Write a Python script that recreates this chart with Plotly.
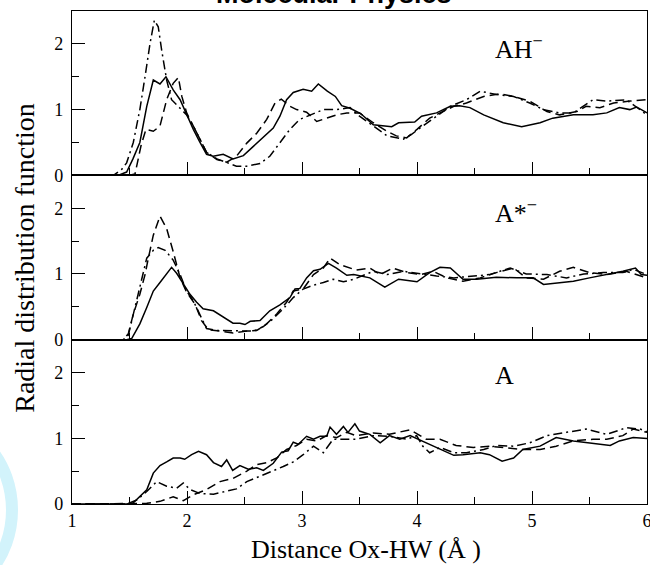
import plotly.graph_objects as go
from plotly.subplots import make_subplots

# ---------------- data ----------------
panel_labels = ["AH<sup>\u2212</sup>", "A*<sup>\u2212</sup>", "A"]
series_names = ["solid", "dashed", "dash-dot"]

# Panel 1: AH-
ah_solid_x = [1.0, 1.40, 1.475, 1.53, 1.59, 1.65, 1.707, 1.765, 1.817, 1.88, 1.94, 2.0, 2.055, 2.113, 2.17, 2.228, 2.315, 2.40, 2.49, 2.577, 2.664, 2.75, 2.808, 2.866, 2.924, 3.01, 3.084, 3.142, 3.22, 3.29, 3.345, 3.418, 3.51, 3.62, 3.78, 3.84, 3.98, 4.04, 4.17, 4.29, 4.37, 4.46, 4.58, 4.75, 4.91, 5.07, 5.18, 5.36, 5.53, 5.65, 5.76, 5.85, 5.91, 6.0]
ah_solid_y = [0, 0, 0.05, 0.25, 0.5, 1.05, 1.45, 1.39, 1.5, 1.3, 1.15, 0.9, 0.7, 0.5, 0.32, 0.29, 0.32, 0.25, 0.30, 0.44, 0.58, 0.72, 0.9, 1.15, 1.26, 1.31, 1.28, 1.39, 1.28, 1.2, 1.06, 1.02, 0.94, 0.77, 0.74, 0.80, 0.81, 0.90, 0.95, 1.05, 1.06, 1.03, 0.92, 0.80, 0.74, 0.80, 0.87, 0.92, 0.92, 0.95, 1.03, 1.0, 1.04, 0.95]

ah_dash_x = [1.0, 1.50, 1.548, 1.60, 1.643, 1.707, 1.765, 1.823, 1.88, 1.925, 1.955, 1.997, 2.055, 2.113, 2.17, 2.26, 2.345, 2.43, 2.52, 2.606, 2.693, 2.765, 2.82, 2.895, 2.953, 3.04, 3.128, 3.215, 3.30, 3.39, 3.50, 3.62, 3.74, 3.82, 3.91, 4.0, 4.11, 4.2, 4.32, 4.43, 4.58, 4.72, 4.84, 4.98, 5.13, 5.24, 5.39, 5.47, 5.59, 5.71, 5.85, 6.0]
ah_dash_y = [0, 0, 0.02, 0.45, 0.70, 0.67, 0.75, 1.15, 1.40, 1.49, 1.2, 0.95, 0.75, 0.55, 0.35, 0.24, 0.2, 0.29, 0.49, 0.64, 0.85, 1.10, 1.16, 1.05, 1.0, 0.96, 0.82, 0.87, 0.92, 0.95, 0.95, 0.80, 0.67, 0.60, 0.57, 0.70, 0.87, 0.95, 1.05, 1.1, 1.2, 1.24, 1.2, 1.13, 0.97, 0.92, 0.97, 1.05, 1.03, 1.1, 1.13, 1.15]

ah_dot_x = [1.0, 1.36, 1.432, 1.475, 1.533, 1.59, 1.635, 1.678, 1.716, 1.75, 1.78, 1.823, 1.866, 1.925, 1.997, 2.055, 2.113, 2.17, 2.26, 2.345, 2.43, 2.52, 2.635, 2.72, 2.808, 2.895, 2.98, 3.07, 3.186, 3.30, 3.418, 3.50, 3.62, 3.74, 3.88, 3.95, 4.05, 4.17, 4.29, 4.43, 4.55, 4.69, 4.84, 4.98, 5.10, 5.24, 5.36, 5.53, 5.65, 5.82, 6.0]
ah_dot_y = [0, 0, 0.09, 0.19, 0.5, 1.0, 1.5, 2.0, 2.36, 2.26, 1.9, 1.45, 1.15, 1.05, 0.92, 0.75, 0.55, 0.35, 0.25, 0.19, 0.14, 0.14, 0.18, 0.29, 0.49, 0.70, 0.85, 0.92, 1.0, 1.0, 1.03, 0.90, 0.75, 0.60, 0.55, 0.62, 0.75, 0.90, 1.05, 1.15, 1.28, 1.23, 1.2, 1.1, 1.0, 0.95, 0.95, 1.15, 1.13, 1.15, 0.92]

# Panel 2: A*-
as_solid_x = [1.0, 1.475, 1.52, 1.59, 1.65, 1.707, 1.765, 1.823, 1.866, 1.91, 1.968, 2.026, 2.084, 2.14, 2.23, 2.315, 2.40, 2.46, 2.504, 2.55, 2.635, 2.72, 2.808, 2.895, 2.939, 2.982, 3.04, 3.10, 3.157, 3.23, 3.30, 3.39, 3.45, 3.59, 3.72, 3.84, 4.0, 4.11, 4.2, 4.29, 4.40, 4.52, 4.69, 4.87, 5.01, 5.10, 5.24, 5.36, 5.50, 5.65, 5.79, 5.90, 5.95, 6.0]
as_solid_y = [0, 0, 0.02, 0.24, 0.49, 0.74, 0.87, 1.0, 1.1, 1.01, 0.84, 0.69, 0.57, 0.47, 0.44, 0.34, 0.25, 0.25, 0.23, 0.28, 0.29, 0.44, 0.53, 0.64, 0.77, 0.78, 0.94, 1.05, 1.07, 1.16, 1.09, 0.98, 0.99, 0.94, 0.80, 0.92, 0.88, 1.02, 1.10, 1.09, 0.92, 0.92, 0.95, 0.94, 0.94, 0.84, 0.87, 0.89, 0.94, 0.99, 1.04, 1.09, 0.99, 0.98]

as_dash_x = [1.0, 1.446, 1.49, 1.533, 1.59, 1.635, 1.664, 1.707, 1.765, 1.823, 1.88, 1.94, 1.997, 2.07, 2.127, 2.186, 2.287, 2.40, 2.52, 2.606, 2.693, 2.78, 2.866, 2.924, 3.01, 3.10, 3.186, 3.244, 3.33, 3.418, 3.47, 3.59, 3.68, 3.79, 3.91, 4.03, 4.14, 4.26, 4.40, 4.55, 4.69, 4.84, 4.95, 5.10, 5.24, 5.36, 5.50, 5.65, 5.82, 6.0]
as_dash_y = [0, 0, 0.09, 0.39, 0.69, 0.99, 1.24, 1.59, 1.88, 1.69, 1.34, 0.94, 0.72, 0.54, 0.29, 0.15, 0.13, 0.10, 0.13, 0.14, 0.24, 0.39, 0.57, 0.74, 0.77, 0.99, 1.09, 1.24, 1.14, 1.09, 1.06, 1.09, 0.99, 1.09, 1.02, 0.99, 1.04, 0.94, 0.89, 0.94, 1.02, 1.09, 0.94, 0.92, 1.04, 1.10, 1.02, 0.99, 1.04, 0.94]

as_dot_x = [1.0, 1.446, 1.49, 1.548, 1.606, 1.65, 1.707, 1.75, 1.81, 1.88, 1.94, 1.997, 2.055, 2.113, 2.17, 2.26, 2.37, 2.49, 2.577, 2.664, 2.75, 2.837, 2.924, 3.01, 3.10, 3.186, 3.27, 3.36, 3.45, 3.62, 3.74, 3.88, 4.03, 4.17, 4.32, 4.49, 4.63, 4.81, 4.95, 5.13, 5.30, 5.45, 5.62, 5.79, 5.88, 6.0]
as_dot_y = [0, 0, 0.07, 0.49, 0.94, 1.24, 1.36, 1.40, 1.36, 1.21, 0.99, 0.74, 0.59, 0.39, 0.17, 0.14, 0.14, 0.13, 0.13, 0.2, 0.32, 0.47, 0.64, 0.77, 0.83, 0.87, 0.92, 0.88, 0.92, 1.04, 0.99, 1.04, 1.0, 0.97, 0.94, 0.97, 0.99, 1.09, 1.0, 0.99, 0.94, 1.0, 1.02, 1.02, 1.07, 0.99]

# Panel 3: A
a_solid_x = [1.0, 1.475, 1.533, 1.65, 1.707, 1.765, 1.823, 1.88, 1.94, 1.98, 2.04, 2.10, 2.17, 2.23, 2.30, 2.345, 2.397, 2.46, 2.533, 2.606, 2.664, 2.75, 2.823, 2.88, 2.924, 2.968, 3.04, 3.10, 3.157, 3.215, 3.244, 3.30, 3.36, 3.40, 3.46, 3.50, 3.59, 3.68, 3.76, 3.85, 3.94, 4.01, 4.11, 4.2, 4.32, 4.40, 4.55, 4.63, 4.74, 4.84, 4.92, 5.07, 5.21, 5.36, 5.50, 5.68, 5.76, 5.88, 6.0]
a_solid_y = [0, 0, 0.02, 0.215, 0.47, 0.585, 0.64, 0.70, 0.70, 0.68, 0.75, 0.80, 0.75, 0.63, 0.57, 0.67, 0.51, 0.585, 0.53, 0.55, 0.51, 0.62, 0.79, 0.81, 0.94, 0.91, 1.03, 0.985, 1.03, 1.03, 1.17, 1.06, 1.18, 1.09, 1.22, 1.11, 1.06, 0.93, 1.04, 0.985, 1.04, 0.985, 0.91, 0.83, 0.74, 0.75, 0.78, 0.75, 0.65, 0.70, 0.83, 0.88, 1.01, 0.96, 0.93, 0.89, 0.96, 1.01, 0.995]

a_dash_x = [1.0, 1.55, 1.65, 1.765, 1.88, 1.968, 2.055, 2.17, 2.287, 2.40, 2.52, 2.606, 2.693, 2.78, 2.866, 2.953, 3.04, 3.128, 3.215, 3.30, 3.39, 3.47, 3.62, 3.76, 3.94, 4.08, 4.2, 4.34, 4.49, 4.63, 4.78, 4.92, 5.07, 5.21, 5.36, 5.53, 5.65, 5.79, 5.88, 6.0]
a_dash_y = [0, 0, 0.01, 0.04, 0.11, 0.05, 0.14, 0.22, 0.34, 0.39, 0.50, 0.60, 0.63, 0.70, 0.83, 0.89, 0.985, 0.96, 1.04, 1.01, 1.09, 1.04, 1.08, 1.06, 1.13, 0.985, 0.985, 0.89, 0.86, 0.88, 0.86, 0.83, 0.83, 0.88, 0.96, 0.985, 0.985, 1.04, 1.14, 1.09]

a_dot_x = [1.0, 1.475, 1.563, 1.65, 1.736, 1.823, 1.91, 1.968, 2.026, 2.113, 2.23, 2.345, 2.43, 2.52, 2.635, 2.75, 2.837, 2.924, 3.01, 3.10, 3.186, 3.27, 3.36, 3.47, 3.62, 3.76, 3.91, 3.997, 4.05, 4.11, 4.2, 4.32, 4.43, 4.58, 4.69, 4.84, 4.98, 5.13, 5.30, 5.47, 5.65, 5.82, 5.94, 6.0]
a_dot_y = [0, 0, 0.06, 0.19, 0.34, 0.27, 0.24, 0.32, 0.22, 0.16, 0.15, 0.19, 0.23, 0.34, 0.42, 0.50, 0.57, 0.64, 0.75, 0.88, 0.78, 0.985, 0.985, 0.985, 1.04, 1.03, 0.985, 1.04, 0.88, 0.78, 0.86, 0.78, 0.78, 0.83, 0.89, 0.88, 0.93, 1.04, 1.09, 1.14, 1.06, 1.16, 1.14, 1.10]

x_tick_vals = [1, 2, 3, 4, 5, 6]
y_tick_vals = [0, 1, 2]

# ---------------- figure ----------------
panels = [
    [(ah_solid_x, ah_solid_y), (ah_dash_x, ah_dash_y), (ah_dot_x, ah_dot_y)],
    [(as_solid_x, as_solid_y), (as_dash_x, as_dash_y), (as_dot_x, as_dot_y)],
    [(a_solid_x, a_solid_y), (a_dash_x, a_dash_y), (a_dot_x, a_dot_y)],
]
dash_styles = ["solid", "9px,5px", "9px,4px,2px,4px"]

fig = make_subplots(rows=3, cols=1, shared_xaxes=True, vertical_spacing=0)

for r, panel in enumerate(panels, start=1):
    for (xs, ys), name, dash in zip(panel, series_names, dash_styles):
        fig.add_trace(go.Scatter(x=xs, y=ys, mode="lines", name=name, showlegend=False,
                                 line=dict(color="black", width=1.5, dash=dash)),
                      row=r, col=1)

serif = "Liberation Serif"
axis_common = dict(showline=True, linecolor="black", linewidth=1.2, mirror=True,
                   ticks="inside", ticklen=13, tickwidth=1.2, tickcolor="black",
                   showgrid=False, zeroline=False, automargin=False,
                   tickfont=dict(family=serif, size=18, color="black"))

for r in range(1, 4):
    fig.update_xaxes(range=[1, 6], tickvals=x_tick_vals,
                     minor=dict(ticks="inside", ticklen=7, tickwidth=1.2, tickcolor="black",
                                tickvals=[1.5, 2.5, 3.5, 4.5, 5.5]),
                     ticklabeloverflow="allow",
                     **axis_common, row=r, col=1)
    fig.update_yaxes(range=[0, 2.5], tickvals=y_tick_vals,
                     minor=dict(ticks="inside", ticklen=7, tickwidth=1.2, tickcolor="black",
                                tickvals=[0.5, 1.5]),
                     ticklabelstandoff=4,
                     **axis_common, row=r, col=1)
fig.update_xaxes(showticklabels=True, row=3, col=1)

annotations = []
for r, lab in enumerate(panel_labels, start=1):
    yref = "y" if r == 1 else f"y{r}"
    annotations.append(dict(x=4.66, y=1.95, xref="x", yref=yref, text=lab, showarrow=False,
                            xanchor="left", yanchor="middle",
                            font=dict(family=serif, size=26, color="black")))

annotations.append(dict(x=-0.083, y=0.5, xref="paper", yref="paper",
                        text="Radial distribution function", textangle=-90, showarrow=False,
                        xanchor="center", yanchor="middle",
                        font=dict(family=serif, size=28, color="black")))
annotations.append(dict(x=0.511, y=-0.093, xref="paper", yref="paper",
                        text="Distance Ox-HW (\u00c5 )", showarrow=False,
                        xanchor="center", yanchor="middle",
                        font=dict(family=serif, size=26, color="black")))
annotations.append(dict(x=0.455, y=1.0, xref="paper", yref="paper",
                        text="<b>Molecular Physics</b>", showarrow=False,
                        xanchor="center", yanchor="bottom",
                        font=dict(family="Liberation Sans", size=27, color="black")))

fig.update_layout(
    width=650, height=565,
    margin=dict(l=72, r=3, t=11, b=61),
    paper_bgcolor="white", plot_bgcolor="white",
    annotations=annotations,
    showlegend=False,
    shapes=[
        dict(type="circle", xref="paper", yref="paper",
             x0=(-150 - 72) / 575, x1=(12 - 72) / 575,
             y0=(504 - 600) / 493, y1=(504 - 420) / 493,
             line=dict(color="#d2f3fb", width=12), layer="below"),
    ],
)

fig.write_html("out.html", config={"displayModeBar": False},
               post_script="document.body.style.margin='0';document.body.style.overflow='hidden';")
